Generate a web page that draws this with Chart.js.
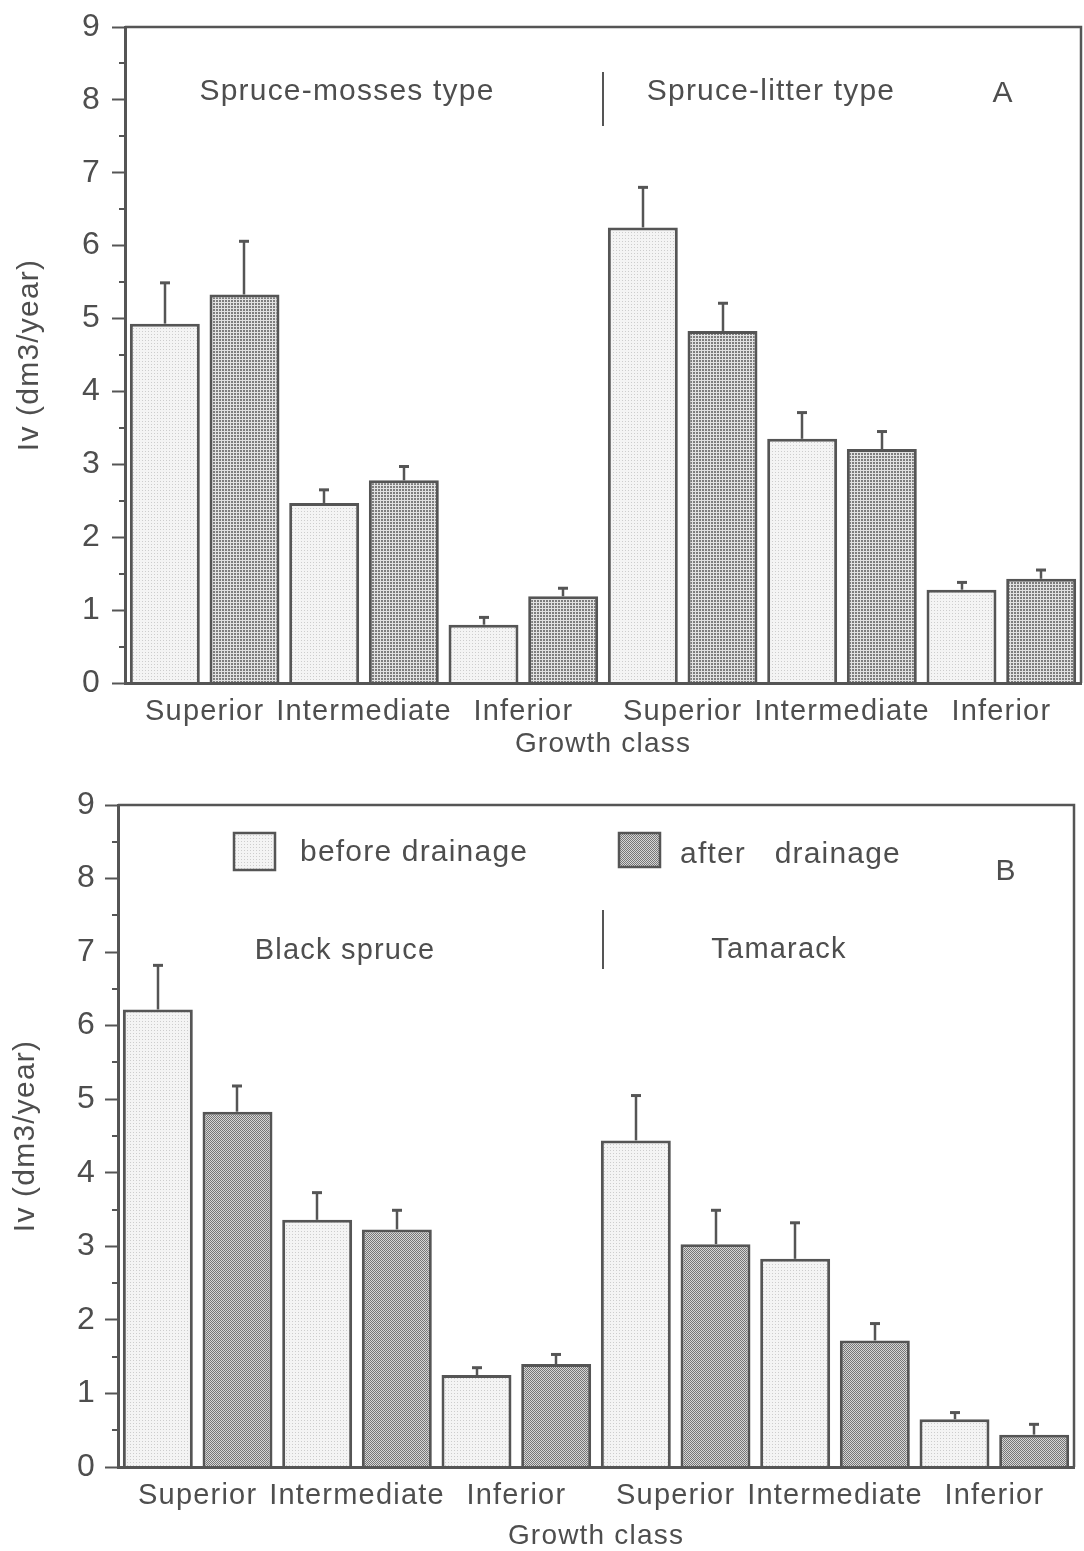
<!DOCTYPE html>
<html>
<head>
<meta charset="utf-8">
<script src="https://cdn.jsdelivr.net/npm/chart.js@4.4.0/dist/chart.umd.min.js"></script>
<style>
  html, body { margin: 0; padding: 0; background: #ffffff; }
  #wrapA { position: absolute; left: 0; top: 0; width: 1084px; height: 780px; }
  #wrapB { position: absolute; left: 0; top: 780px; width: 1084px; height: 771px; }
  canvas { display: block; }
</style>
</head>
<body>
<div id="wrapA"><canvas id="chartA" width="1084" height="780"></canvas></div>
<div id="wrapB"><canvas id="chartB" width="1084" height="771"></canvas></div>
<script>
// ---------------- DATA ----------------
const growthClasses = ['Superior', 'Intermediate', 'Inferior', 'Superior', 'Intermediate', 'Inferior'];
const seriesLabels = ['before drainage', 'after   drainage'];
const yMin = 0;
const yMax = 9;
const yStep = 1;
const axisTitleX = 'Growth class';
const axisTitleY = 'Iv (dm3/year)';

// Panel A : Spruce-mosses type | Spruce-litter type
const panelA_groups = ['Spruce-mosses type', 'Spruce-litter type'];
const panelA_before   = [4.93, 2.47, 0.80, 6.25, 3.35, 1.28];
const panelA_after    = [5.33, 2.78, 1.19, 4.83, 3.21, 1.43];
const panelA_beforeSE = [0.56, 0.18, 0.10, 0.55, 0.36, 0.10];
const panelA_afterSE  = [0.73, 0.19, 0.11, 0.38, 0.24, 0.12];

// Panel B : Black spruce | Tamarack
const panelB_groups = ['Black spruce', 'Tamarack'];
const panelB_before   = [6.22, 3.36, 1.25, 4.44, 2.83, 0.65];
const panelB_after    = [4.83, 3.23, 1.40, 3.03, 1.72, 0.44];
const panelB_beforeSE = [0.60, 0.37, 0.10, 0.61, 0.49, 0.09];
const panelB_afterSE  = [0.35, 0.26, 0.13, 0.46, 0.23, 0.14];

// ---------------- STYLE ----------------
const INK = '#555555';
const TEXT = '#4e4e4e';
const FONT = "'Liberation Sans', Arial, Helvetica, sans-serif";

function makePattern(ctx, size, bg, fg, dots) {
  const c = document.createElement('canvas');
  c.width = size; c.height = size;
  const x = c.getContext('2d');
  x.fillStyle = bg; x.fillRect(0, 0, size, size);
  x.fillStyle = fg;
  dots.forEach(d => x.fillRect(d[0], d[1], d[2] || 1, d[3] || 1));
  return ctx.createPattern(c, 'repeat');
}

function makeDeco(spec) {
  return {
    id: 'panelDeco',
    beforeUpdate(chart) { chart.ctx.letterSpacing = '1.2px'; },
    afterDatasetsDraw(chart) {
      const ctx = chart.ctx;
      const ys = chart.scales.y;
      ctx.save();
      ctx.strokeStyle = INK;
      chart.data.datasets.forEach((ds, i) => {
        const meta = chart.getDatasetMeta(i);
        meta.data.forEach((bar, j) => {
          const x = Math.round(bar.x);
          const y0 = bar.y;
          const y1 = ys.getPixelForValue(ds.data[j] + ds.se[j]);
          ctx.lineWidth = 2.5;
          ctx.beginPath(); ctx.moveTo(x, y0); ctx.lineTo(x, y1); ctx.stroke();
          ctx.lineWidth = 3;
          ctx.beginPath(); ctx.moveTo(x - 5, y1); ctx.lineTo(x + 5, y1); ctx.stroke();
        });
      });
      ctx.restore();
    },
    afterDraw(chart) {
      const ctx = chart.ctx;
      const a = chart.chartArea;
      const ys = chart.scales.y;
      ctx.save();
      ctx.strokeStyle = INK;
      // frame (top + right)
      ctx.lineWidth = 2.5;
      ctx.beginPath();
      ctx.moveTo(a.left, a.top); ctx.lineTo(a.right, a.top); ctx.lineTo(a.right, a.bottom);
      ctx.stroke();
      // minor ticks at half units
      ctx.lineWidth = 2;
      for (let v = yMin + yStep / 2; v < yMax; v += yStep) {
        const p = Math.round(ys.getPixelForValue(v));
        ctx.beginPath(); ctx.moveTo(a.left - 6, p); ctx.lineTo(a.left, p); ctx.stroke();
      }
      // divider
      ctx.lineWidth = 2;
      ctx.beginPath(); ctx.moveTo(spec.divider.x, spec.divider.y0); ctx.lineTo(spec.divider.x, spec.divider.y1); ctx.stroke();
      // texts
      ctx.fillStyle = TEXT;
      ctx.textBaseline = 'alphabetic';
      spec.texts.forEach(t => {
        ctx.font = t.size + 'px ' + FONT;
        ctx.textAlign = t.align || 'center';
        ctx.fillText(t.text, t.x, t.y);
      });
      // legend
      if (spec.legend) {
        chart.data.datasets.forEach((ds, i) => {
          const L = spec.legend[i];
          ctx.fillStyle = ds.backgroundColor;
          ctx.fillRect(L.bx, L.by, L.bw, L.bh);
          ctx.lineWidth = 2.5;
          ctx.strokeStyle = INK;
          ctx.strokeRect(L.bx, L.by, L.bw, L.bh);
          ctx.fillStyle = TEXT;
          ctx.font = L.size + 'px ' + FONT;
          ctx.textAlign = 'left';
          ctx.fillText(ds.label, L.tx, L.ty);
        });
      }
      ctx.restore();
    }
  };
}

function buildChart(id, o) {
  const canvas = document.getElementById(id);
  const ctx = canvas.getContext('2d');
  const light = makePattern(ctx, 3, '#f4f4f4', '#cdcdcd', [[1, 1]]);
  const dark = o.darkPattern(ctx);
  return new Chart(ctx, {
    type: 'bar',
    data: {
      labels: growthClasses,
      datasets: [
        { label: seriesLabels[0], data: o.before, se: o.beforeSE, backgroundColor: light,
          borderColor: INK, borderWidth: 3, borderSkipped: 'bottom' },
        { label: seriesLabels[1], data: o.after, se: o.afterSE, backgroundColor: dark,
          borderColor: INK, borderWidth: 3, borderSkipped: 'bottom' }
      ]
    },
    options: {
      responsive: false,
      animation: false,
      devicePixelRatio: 1,
      events: [],
      layout: { padding: { left: 0, right: o.padRight, top: o.padTop, bottom: 0 } },
      datasets: { bar: { categoryPercentage: 1, barPercentage: 0.878 } },
      plugins: { legend: { display: false }, tooltip: { enabled: false } },
      scales: {
        x: {
          grid: { display: false, drawTicks: false },
          border: { display: true, color: INK, width: 3, z: 1 },
          ticks: { color: TEXT, font: { family: FONT, size: 29, lineHeight: 1 }, padding: o.xTickPad,
                   autoSkip: false, maxRotation: 0, minRotation: 0 },
          title: { display: true, text: axisTitleX, color: TEXT,
                   font: { family: FONT, size: 28, lineHeight: 1 }, padding: { top: 0, bottom: o.xTitlePad } },
          afterFit(s) { s.height = o.xHeight; }
        },
        y: {
          min: yMin, max: yMax,
          ticks: { stepSize: yStep, color: TEXT, font: { family: FONT, size: 32, lineHeight: 1 }, padding: o.yTickPad },
          grid: { drawOnChartArea: false, drawTicks: true, tickLength: 13, tickWidth: 2, tickColor: INK },
          border: { display: true, color: INK, width: 3, z: 1 },
          title: { display: true, text: axisTitleY, color: TEXT,
                   font: { family: FONT, size: 30, lineHeight: 1 }, padding: { top: o.yTitlePad, bottom: 0 } },
          afterFit(s) { s.width = o.yWidth; }
        }
      }
    },
    plugins: [makeDeco(o.deco)]
  });
}

buildChart('chartA', {
  before: panelA_before, after: panelA_after, beforeSE: panelA_beforeSE, afterSE: panelA_afterSE,
  darkPattern: ctx => makePattern(ctx, 3, '#e2e2e2', '#7e7e7e', [[0, 0, 2, 2]]),
  padRight: 3, padTop: 16, yWidth: 125, xHeight: 97,
  xTickPad: 14, xTitlePad: 22, yTickPad: 11, yTitlePad: 15,
  deco: {
    divider: { x: 603, y0: 72, y1: 126 },
    texts: [
      { text: panelA_groups[0], x: 347, y: 100, size: 30 },
      { text: panelA_groups[1], x: 771, y: 100, size: 30 },
      { text: 'A', x: 1003, y: 102, size: 30 }
    ]
  }
});

buildChart('chartB', {
  before: panelB_before, after: panelB_after, beforeSE: panelB_beforeSE, afterSE: panelB_afterSE,
  darkPattern: ctx => makePattern(ctx, 2, '#d6d6d6', '#767676', [[0, 0], [1, 1]]),
  padRight: 10, padTop: 18, yWidth: 118, xHeight: 84,
  xTickPad: 14, xTitlePad: 1, yTickPad: 9, yTitlePad: 11,
  deco: {
    divider: { x: 603, y0: 130, y1: 189 },
    texts: [
      { text: panelB_groups[0], x: 345, y: 179, size: 29 },
      { text: panelB_groups[1], x: 779, y: 178, size: 29 },
      { text: 'B', x: 1006, y: 100, size: 30 }
    ],
    legend: [
      { bx: 234, by: 53, bw: 41, bh: 37, tx: 300, ty: 81, size: 30 },
      { bx: 619, by: 53, bw: 41, bh: 34, tx: 680, ty: 83, size: 30 }
    ]
  }
});
</script>
</body>
</html>
